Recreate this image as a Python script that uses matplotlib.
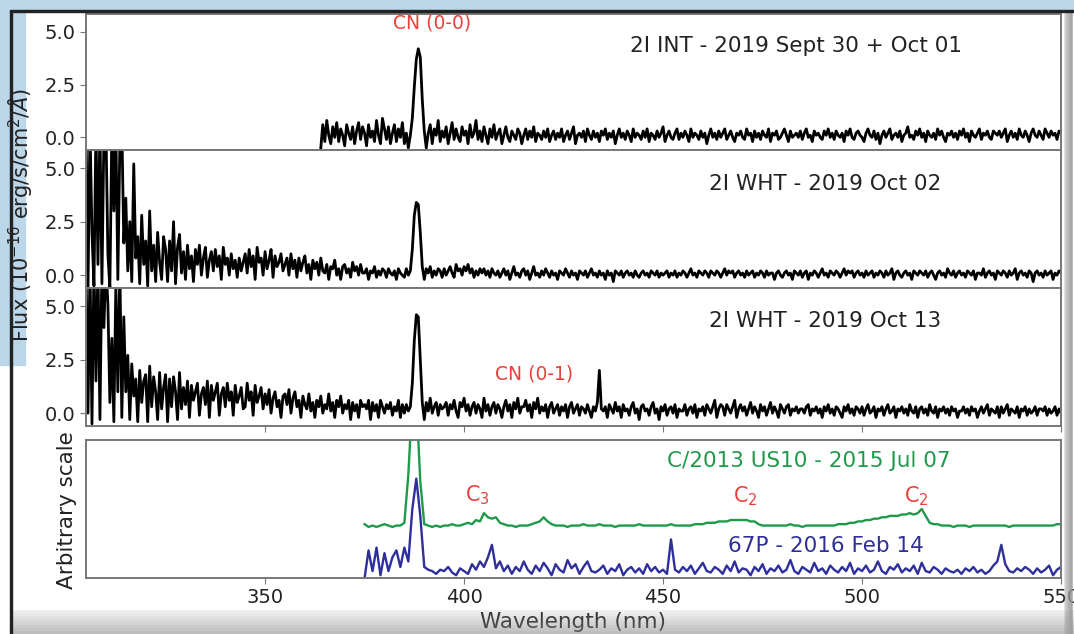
import numpy as np
import matplotlib
matplotlib.use("Agg")
import matplotlib.pyplot as plt
from matplotlib.patches import Rectangle

# wavelength grids (nm)
wl_int = np.arange(364, 550.01, 0.5)
wl_wht = np.arange(305, 550.01, 0.5)
wl_ref = np.arange(375, 551)

# fluxes for the 2I spectra, in units of 0.1e-16 erg/s/cm2/A
# 2I INT - 2019 Sept 30 + Oct 01
flux_int = [
    -5, 6, -2, 8, 1, -3, 5, 0, 7, -2, 4, 1, -4, 6, 2, -1, 5, -3, 3, 7,
    -1, 5, 2, -4, 6, 0, 3, -2, 8, 1, -3, 9, 4, -1, 5, -3, 2, 6, -2, 4,
    0, 7, -3, 2, -5, 1, 9, 24, 37, 42, 38, 18, 3, -5, 2, 6, -3, 4, 1, 8,
    -2, 3, 0, 5, -3, 2, 7, -1, 4, 0, -2, 5, 1, 3, -3, 6, 0, 2, 8, -1,
    3, -2, 5, 1, -3, 4, 0, 6, -1, 2, 4, -3, 1, 5, 0, -2, 3, 1, -1, 4,
    2, -3, 1, 4, -1, 3, 0, 5, -2, 2, 1, -1, 3, 0, 4, -2, 1, 3, -1, 2,
    0, 4, -2, 1, 3, -1, 2, 5, -3, 1, 2, 0, 3, -2, 4, 1, -1, 3, 0, 2,
    -2, 3, 1, 4, -1, 2, 0, 3, -3, 1, 4, 0, 2, -1, 3, 1, -2, 4, 0, 2,
    1, -1, 3, 0, 4, -2, 2, 1, -1, 3, 0, 2, 5, -2, 1, 3, 0, -1, 2, 4,
    -1, 2, 0, 3, 1, -2, 4, 0, 2, 1, -1, 3, 0, 2, -3, 1, 4, 0, 2, -1,
    3, 0, 2, 4, -1, 1, 3, 0, -2, 2, 1, 3, 0, -1, 4, 1, 2, -2, 3, 0,
    2, -1, 3, 1, 0, 4, -2, 2, 1, 3, -1, 0, 2, 4, 1, -2, 3, 0, 1, 2,
    0, 3, -1, 2, 4, 0, 1, -2, 3, 1, 2, 0, -1, 3, 1, 4, 0, 2, -1, 3,
    1, 0, 2, -2, 3, 1, 4, 0, -1, 2, 3, 1, 0, -2, 2, 4, 1, 0, 3, -1,
    2, -3, 1, 3, 0, 2, 4, -1, 1, 2, 0, 3, -2, 1, 2, 5, 0, 1, -1, 3,
    1, 4, 0, 2, -2, 3, 1, 0, 2, -1, 4, 1, 3, 0, -2, 2, 1, 3, 0, 2,
    -1, 3, 1, 4, 0, 2, -2, 3, 1, 0, 2, 4, -1, 2, 1, 3, 0, -1, 3, 2,
    1, 3, 0, 2, 4, -2, 1, 3, 0, 2, -1, 4, 1, 0, 3, 1, -2, 2, 4, 1,
    0, 3, 1, -1, 4, 2, 0, 3, 1, 2, -1, 3, 2,
]

# 2I WHT - 2019 Oct 02
flux_wht02 = [
    70, -6, 70, 20, -5, 70, 5, 70, -4, 65, 70, 10, -6, 70, 30, 70, -2, 60, 70, 15,
    36, 2, 25, -3, 52, 8, 18, -4, 28, 5, 16, -5, 30, 2, 14, -3, 20, 6, -2, 18,
    12, -3, 16, 2, 25, -4, 13, 19, 1, 11, -2, 14, 3, 9, -3, 12, 5, 14, 0, 8,
    13, -1, 7, 11, 2, 12, 4, 9, -2, 13, 5, 8, 0, 10, 3, 7, -1, 8, 2, 6,
    10, 1, 12, 4, 9, -2, 13, 6, 8, 0, 11, 3, 7, 12, -1, 9, 4, 6, 10, 2,
    5, 8, 0, 10, 3, 7, -1, 8, 2, 6, 9, 1, 5, -2, 7, 3, 6, 0, 8, 2,
    1, 5, -2, 4, 3, 7, 0, 3, -2, 4, 5, 1, 3, -1, 6, 2, 4, 0, 5, 1,
    1, 3, -2, 2, 1, 4, -1, 2, 0, 3, 2, -1, 3, 1, 0, 2, -2, 3, 1, 0,
    -1, 3, 0, 2, 12, 28, 34, 33, 20, 4, -2, 3, 1, 4, -1, 2, 0, 3, 2, -1,
    3, 0, 2, 4, 1, -1, 5, 2, 3, 0, 4, 2, 5, 1, 3, -1, 2, 0, 3, 1,
    3, 0, 2, -1, 3, 1, 0, 2, -1, 1, 3, 0, 2, -2, 1, 4, 0, 1, -1, 2,
    3, 0, 2, -2, 1, 4, 0, 1, -1, 2, 0, 3, 1, -1, 2, 0, 1, -2, 2, 1,
    0, 3, 1, -1, 2, 0, 1, -2, 2, 1, 0, 2, -1, 1, 3, 0, 1, -1, 2, 0,
    1, -2, 2, 0, 1, -3, 2, 1, 0, 2, -1, 1, 2, 0, 1, -1, 2, 0, -1, 1,
    2, 0, 1, -1, 2, 1, 0, 2, -1, 1, 0, 1, 2, -1, 1, 0, 2, -1, 1, 0,
    2, 1, -1, 1, 3, 0, 1, -1, 2, 1, 0, 2, 1, -1, 2, 1, 0, 2, 1, -1,
    1, 3, 0, 2, 1, 2, -1, 1, 2, 0, 1, -1, 2, 0, 1, 2, -1, 1, 0, 2,
    1, -1, 2, 0, 1, 1, -2, 1, 2, 0, -1, 1, 2, 0, 1, -2, 2, 1, 0, 2,
    -1, 1, 2, -2, 1, 0, 2, 1, -1, 1, 3, 0, 1, -1, 2, 1, 0, 2, 1, -1,
    1, 3, 0, 2, 1, 2, -1, 1, 2, 0, 1, -1, 2, 0, 1, 2, -1, 1, 0, 2,
    1, -1, 2, 0, 1, 3, -2, 1, 2, 0, -1, 1, 2, 0, 1, -2, 2, 1, 0, 2,
    1, 0, 2, -1, 1, 2, 0, -2, 1, 2, 0, 1, -1, 3, 1, 0, 2, -1, 1, 2,
    0, 1, -1, 2, 1, 0, 2, -2, 1, 1, 0, 3, -1, 1, 2, 0, 1, -2, 2, 1,
    0, 2, 1, -1, 2, 0, 1, 3, -2, 1, 2, 0, 1, -1, 2, 1, -3, 1, 2, 0,
    1, -1, 2, 0, 1, 2, -2, 1, 0, 2, 1,
]

# 2I WHT - 2019 Oct 13
flux_wht13 = [
    70, 0, 70, -5, 70, 15, 70, -3, 70, 40, 70, 51, 5, 35, -4, 60, 10, 70, -2, 45,
    10, 27, -3, 23, 8, 16, -4, 20, 5, 15, 18, -4, 22, 3, 17, 10, -3, 19, 2, 12,
    18, -4, 16, 3, 17, 10, -3, 19, 2, 12, 4, 15, -2, 13, 6, 10, 14, -1, 9, 12,
    4, 15, -2, 13, 6, 10, 14, -1, 9, 12, 3, 14, 6, 10, -1, 13, 5, 8, 12, 2,
    3, 14, 6, 10, -1, 13, 5, 8, 12, 2, 9, 4, 11, 0, 7, 10, 3, 6, -2, 8,
    9, 4, 11, 0, 7, 10, 3, 6, -2, 8, 4, 2, 9, 1, 5, -2, 6, 3, 8, 0,
    4, 2, 9, 1, 5, -2, 6, 3, 8, 0, 4, 2, 6, -3, 5, 1, 4, -2, 6, 3,
    4, 2, 6, -3, 5, 1, 4, -2, 6, 3, 0, 4, 2, 5, -1, 3, 1, 6, -2, 4,
    0, 4, 1, 3, 14, 34, 46, 45, 25, 5, -3, 5, 1, 7, 0, 3, 5, -1, 4, 2,
    3, 5, -1, 4, 2, 6, 1, -2, 5, 3, 7, 1, 4, -1, 3, 5, 0, 4, 2, -2,
    7, 1, 4, -1, 3, 5, 0, 4, 2, -2, 3, 6, 1, 4, -2, 5, 2, 7, 0, 3,
    3, 6, 1, 4, -2, 5, 2, 7, 0, 3, 1, 4, -2, 3, 5, 0, 2, 4, -1, 3,
    1, 4, -2, 3, 5, 0, 2, 4, -1, 3, 2, 0, 4, 1, -2, 3, 1, 5, 20, 2,
    1, 3, -2, 4, 2, 0, 5, 1, 3, -2, 4, 1, 2, -1, 3, 5, 0, 2, -3, 3,
    4, 1, 2, -1, 3, 5, 0, 2, -3, 3, 1, 4, -1, 2, 3, 0, 4, -2, 2, 1,
    1, 4, -1, 2, 3, 0, 4, -2, 2, 1, 3, -1, 4, 2, 0, 3, 6, -2, 2, 4,
    3, -1, 4, 2, 0, 3, 6, -2, 2, 4, 1, 3, -1, 2, 5, 0, 3, 1, -2, 4,
    1, 3, -1, 2, 5, 0, 3, 1, -2, 4, 2, 0, 3, 4, -1, 2, 1, 3, 0, 2,
    2, 0, 3, 4, -1, 2, 1, 3, 0, 2, -2, 3, 1, 4, 0, 2, -1, 3, 2, 0,
    -2, 3, 1, 4, 0, 2, -1, 3, 2, 0, 3, -1, 2, 4, 0, 1, 3, -2, 2, 1,
    3, -1, 2, 4, 0, 1, 3, -2, 2, 1, 3, 0, 2, -1, 4, 1, 0, 3, -2, 2,
    3, 0, 2, -1, 4, 1, 0, 3, -2, 2, 1, 3, 0, 2, -1, 3, 1, 2, -2, 1,
    1, 3, 0, 2, -1, 3, 1, 2, -2, 1, 3, 0, 2, 4, -1, 2, 1, 0, 3, -2,
    3, 0, 2, 4, -1, 2, 1, 0, 3, -2, 2, 1, 3, -1, 2, 0, 1, 3, -1, 2,
    2, 1, 3, -1, 2, 0, 1, 3, -1, 2, 0,
]

# C/2013 US10 - 2015 Jul 07 (arbitrary scale)
flux_us10 = [
    0.39, 0.37, 0.38, 0.37, 0.38, 0.39, 0.38, 0.37, 0.38, 0.38,
    0.40, 0.75, 1.30, 1.30, 0.70, 0.39, 0.38, 0.37, 0.38, 0.37,
    0.38, 0.38, 0.39, 0.38, 0.38, 0.39, 0.40, 0.39, 0.42, 0.41,
    0.47, 0.44, 0.43, 0.44, 0.40, 0.39, 0.38, 0.38, 0.37, 0.38,
    0.38, 0.38, 0.39, 0.40, 0.41, 0.44, 0.41, 0.39, 0.38, 0.38,
    0.38, 0.37, 0.38, 0.38, 0.38, 0.39, 0.38, 0.38, 0.38, 0.39,
    0.38, 0.38, 0.38, 0.37, 0.38, 0.38, 0.38, 0.38, 0.38, 0.39,
    0.38, 0.38, 0.38, 0.38, 0.38, 0.38, 0.38, 0.39, 0.38, 0.38,
    0.38, 0.38, 0.38, 0.39, 0.39, 0.39, 0.40, 0.40, 0.40, 0.41,
    0.41, 0.41, 0.42, 0.42, 0.42, 0.42, 0.42, 0.41, 0.41, 0.39,
    0.38, 0.38, 0.38, 0.38, 0.38, 0.38, 0.38, 0.39, 0.38, 0.38,
    0.37, 0.38, 0.38, 0.38, 0.38, 0.38, 0.38, 0.38, 0.38, 0.39,
    0.39, 0.39, 0.40, 0.40, 0.41, 0.41, 0.42, 0.42, 0.43, 0.43,
    0.44, 0.44, 0.45, 0.45, 0.45, 0.46, 0.46, 0.47, 0.46, 0.47,
    0.50, 0.45, 0.40, 0.39, 0.39, 0.38, 0.38, 0.38, 0.37, 0.38,
    0.38, 0.38, 0.37, 0.38, 0.38, 0.38, 0.38, 0.38, 0.38, 0.38,
    0.38, 0.38, 0.37, 0.38, 0.38, 0.38, 0.38, 0.38, 0.38, 0.38,
    0.38, 0.38, 0.38, 0.38, 0.39, 0.39,
]

# 67P - 2016 Feb 14 (arbitrary scale)
flux_67p = [
    0.00, 0.20, 0.05, 0.22, 0.02, 0.18, 0.05, 0.15, 0.20, 0.08,
    0.22, 0.12, 0.50, 0.72, 0.45, 0.08, 0.06, 0.05, 0.03, 0.06,
    0.05, 0.08, 0.04, 0.02, 0.07, 0.05, 0.03, 0.10, 0.06, 0.12,
    0.08, 0.15, 0.24, 0.07, 0.12, 0.05, 0.09, 0.03, 0.08, 0.05,
    0.12, 0.06, 0.03, 0.09, 0.05, 0.11, 0.07, 0.02, 0.10, 0.06,
    0.04, 0.13, 0.07, 0.10, 0.03, 0.08, 0.12, 0.05, 0.04, 0.06,
    0.09, 0.03, 0.07, 0.05, 0.10, 0.02, 0.06, 0.08, 0.04, 0.07,
    0.03, 0.10, 0.05, 0.08, 0.04, 0.06, 0.03, 0.28, 0.06, 0.04,
    0.08, 0.05, 0.09, 0.03, 0.07, 0.11, 0.05, 0.04, 0.08, 0.06,
    0.03, 0.09, 0.05, 0.12, 0.04, 0.07, 0.06, 0.02, 0.08, 0.05,
    0.10, 0.03, 0.07, 0.05, 0.09, 0.04, 0.06, 0.13, 0.05, 0.03,
    0.08, 0.06, 0.04, 0.11, 0.05, 0.07, 0.03, 0.09, 0.06, 0.04,
    0.08, 0.05, 0.11, 0.03, 0.07, 0.05, 0.09, 0.04, 0.06, 0.12,
    0.05, 0.03, 0.08, 0.06, 0.10, 0.04, 0.07, 0.05, 0.09, 0.03,
    0.11, 0.05, 0.04, 0.08, 0.06, 0.03, 0.07, 0.05, 0.04, 0.06,
    0.03, 0.07, 0.05, 0.08, 0.04, 0.06, 0.03, 0.05, 0.09, 0.12,
    0.24, 0.10, 0.05, 0.04, 0.07, 0.05, 0.08, 0.06, 0.03, 0.07,
    0.04, 0.06, 0.09, 0.02, 0.06, 0.08,
]

red = '#e8413c'
green = '#1f9a4a'
blue = '#2e2f9a'
spine_col = '#777777'
text_col = '#222222'

W, H = 1074, 634
fig = plt.figure(figsize=(W / 100, H / 100), dpi=100, facecolor='white')


def px_axes(top, bottom, left=86, right=1061):
    return fig.add_axes([left / W, 1 - bottom / H, (right - left) / W, (bottom - top) / H])


ax1 = px_axes(14, 150)
ax2 = px_axes(150, 288)
ax3 = px_axes(288, 426)
ax4 = px_axes(440, 578)

panels = [(ax1, wl_int, flux_int), (ax2, wl_wht, flux_wht02), (ax3, wl_wht, flux_wht13)]
for ax, wl, fl in panels:
    ax.plot(wl, np.array(fl) / 10, color='black', lw=2.0)
    ax.set_ylim(-0.6, 5.85)
    ax.set_yticks([0.0, 2.5, 5.0])
    ax.set_yticklabels(['0.0', '2.5', '5.0'])
    ax.tick_params(labelbottom=False)

ax4.plot(wl_ref, flux_us10, color=green, lw=1.7)
ax4.plot(wl_ref, flux_67p, color=blue, lw=1.7)
ax4.set_ylim(0, 1)
ax4.set_yticks([])

for ax in [ax1, ax2, ax3, ax4]:
    ax.set_xlim(305, 550)
    ax.set_xticks([350, 400, 450, 500, 550])
    for s in ax.spines.values():
        s.set_color(spine_col)
        s.set_linewidth(1.4)
    ax.tick_params(labelsize=14, color=spine_col, labelcolor=text_col, length=4)

ax4.set_xlabel('Wavelength (nm)', fontsize=15.5, color=text_col, labelpad=3)

# annotations
ax1.text(525, 4.34, '2I INT - 2019 Sept 30 + Oct 01', ha='right', va='center', fontsize=15.5, color=text_col)
ax2.text(520, 4.28, '2I WHT - 2019 Oct 02', ha='right', va='center', fontsize=15.5, color=text_col)
ax3.text(520, 4.30, '2I WHT - 2019 Oct 13', ha='right', va='center', fontsize=15.5, color=text_col)
ax1.text(392, 5.42, 'CN (0-0)', ha='center', va='center', fontsize=13.5, color=red)
ax3.text(417.6, 1.82, 'CN (0-1)', ha='center', va='center', fontsize=13.5, color=red)
ax4.text(486.6, 0.85, 'C/2013 US10 - 2015 Jul 07', ha='center', va='center', fontsize=15.5, color=green)
ax4.text(490.9, 0.23, '67P - 2016 Feb 14', ha='center', va='center', fontsize=15.5, color=blue)
ax4.text(403.3, 0.60, 'C$_3$', ha='center', va='center', fontsize=15, color=red)
ax4.text(470.7, 0.59, 'C$_2$', ha='center', va='center', fontsize=15, color=red)
ax4.text(513.6, 0.59, 'C$_2$', ha='center', va='center', fontsize=15, color=red)

fig.text(67 / W, 1 - 510 / H, 'Arbitrary scale', rotation=90, ha='center', va='center', fontsize=15.5, color=text_col)

# screenshot frame around the figure
bg_blue = '#bcd7ea'
fig.patches.append(Rectangle((0, 1 - 11 / H), 1, 11 / H, transform=fig.transFigure, color=bg_blue, zorder=5))
fig.patches.append(Rectangle((0, 1 - 365 / H), 25 / W, 365 / H, transform=fig.transFigure, color=bg_blue, zorder=5))
fig.patches.append(Rectangle((10 / W, 1 - 12 / H), 1 - 10 / W, 2 / H, transform=fig.transFigure, color=text_col, zorder=6))
fig.patches.append(Rectangle((10 / W, 0), 2 / W, 1 - 11 / H, transform=fig.transFigure, color=text_col, zorder=6))
for i in range(8):
    fig.patches.append(Rectangle((12 / W, (3 * i) / H), 1, 3 / H, transform=fig.transFigure,
                                 color='#8a8a8a', alpha=0.55 - 0.06 * i, zorder=4, lw=0))
    fig.patches.append(Rectangle(((1064 + i) / W, 0), 1.5 / W, 1, transform=fig.transFigure,
                                 color='#9a9a9a', alpha=0.25 + 0.06 * i, zorder=4, lw=0))

fig.text(21 / W, 1 - 215 / H, 'Flux (10$^{-16}$ erg/s/cm$^2$/$\\AA$)', rotation=90,
         ha='center', va='center', fontsize=15, color=text_col, zorder=7)

fig.savefig('out.png', dpi=100, facecolor='white')
